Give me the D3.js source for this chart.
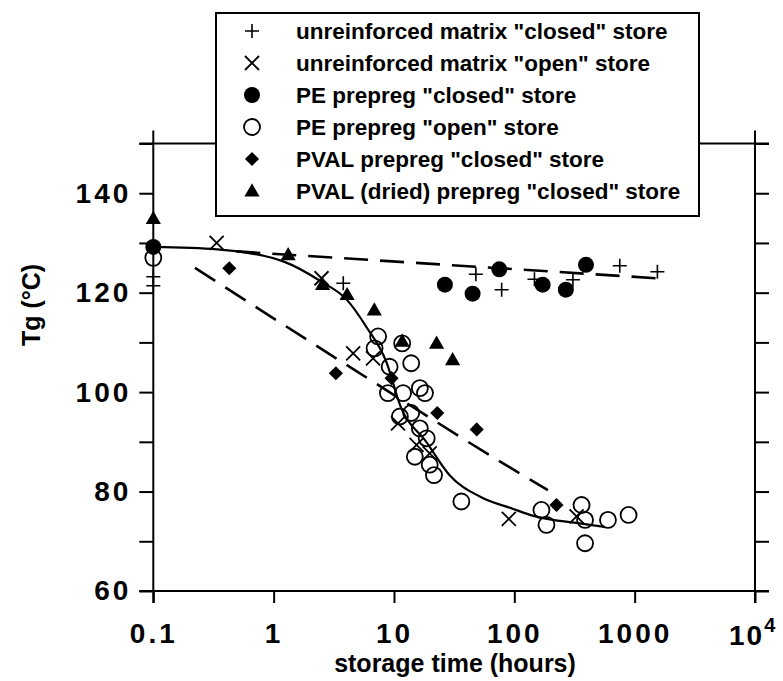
<!DOCTYPE html>
<html><head><meta charset="utf-8">
<script src="https://cdn.jsdelivr.net/npm/d3@7"></script>
<style>body{margin:0;background:#fff}svg{display:block}text{font-family:"Liberation Sans",Arial,Helvetica,sans-serif;font-weight:bold;fill:#000}</style>
</head><body><svg id="c" width="783" height="681"></svg>
<script>
// ---- data (storage time in hours, Tg in °C) ----
const seriesNames = ['unreinforced matrix "closed" store','unreinforced matrix "open" store','PE prepreg "closed" store','PE prepreg "open" store','PVAL prepreg "closed" store','PVAL (dried) prepreg "closed" store'];
const matrixClosed = [[0.1,123.2],[0.1,121.4],[3.79,121.9],[47.9,123.7],[78.5,120.6],[147,122.7],[307,122.6],[752,125.4],[1545,124.2]];
const matrixOpen = [[0.336,130],[2.5,122.9],[4.58,107.8],[6.7,106.8],[10.8,93.7],[15.4,89.4],[19.8,87.7],[90,74.5],[329,75.0]];
const peClosed = [[0.1,129.2],[26.5,121.6],[45,119.8],[75,124.7],[172,121.6],[268,120.6],[394,125.6]];
const peOpen = [[0.1,127],[7.38,111.2],[6.9,108.8],[9.2,105.1],[8.9,99.8],[11.9,99.8],[11.7,109.8],[13.9,105.8],[16.4,100.8],[18.1,99.8],[11.2,95.1],[13.9,95.8],[16.4,92.7],[18.7,90.7],[14.9,87.0],[19.8,85.4],[21.5,83.3],[36.3,78.0],[168,76.3],[185,73.3],[362,77.3],[387,74.3],[387,69.6],[600,74.3],[890,75.3]];
const pvalClosed = [[0.428,124.9],[3.29,103.8],[9.55,102.8],[22.9,95.8],[48.7,92.5],[224,77.3]];
const pvalDried = [[0.1,134.9],[1.32,127.6],[2.55,121.6],[4.08,119.6],[6.86,116.5],[11.7,110.2],[22.6,109.8],[30.7,106.5]];
const solidFit = [[0.1,129.2],[0.34,128.7],[1.2,126.3],[2.5,122.2],[4.05,118.6],[5.9,113.1],[8.7,105.9],[11.2,97.5],[18.8,89.8],[29,83.3],[51.6,79],[98,76.5],[144,75.1],[348,73.6],[560,72.9]];
const upperDash = [[0.49,128.3],[1518,122.9]];
const lowerDash = [[0.222,125],[6.3,102.5],[110,83.7],[190,80.3]];
const xTicks = [0.1,1,10,100,1000,10000];
const yTicks = [60,70,80,90,100,110,120,130,140,150];
const yLabels = [60,80,100,120,140];

const svg = d3.select('#c');
const x = d3.scaleLog().domain([0.1,10000]).range([153.3,755]);
const y = d3.scaleLinear().domain([60,150]).range([591,143.5]);
const X0 = x.range()[0], X1 = x.range()[1], Y0 = y(60), Y1 = y(150);

// frame
const frame = svg.append('g').attr('stroke','#000').attr('stroke-width',2).attr('fill','none');
frame.append('line').attr('x1',X0-14).attr('x2',X1+14).attr('y1',Y0).attr('y2',Y0);
frame.append('line').attr('x1',X0-14).attr('x2',X1+14).attr('y1',Y1).attr('y2',Y1);
frame.append('line').attr('x1',X0).attr('x2',X0).attr('y1',Y1-13).attr('y2',Y0+12);
frame.append('line').attr('x1',X1).attr('x2',X1).attr('y1',Y1-13).attr('y2',Y0+12);

// axes
const yl = svg.append('g').attr('transform',`translate(${X0},0)`)
  .call(d3.axisLeft(y).tickValues(yTicks).tickSize(14).tickPadding(8).tickFormat(d=>yLabels.includes(d)?d:''));
const yr = svg.append('g').attr('transform',`translate(${X1},0)`)
  .call(d3.axisRight(y).tickValues(yTicks).tickSize(14).tickFormat(''));
const xb = svg.append('g').attr('transform',`translate(0,${Y0})`)
  .call(d3.axisBottom(x).tickValues(xTicks).tickSize(12).tickPadding(20).tickFormat(d=>d===10000?'':d3.format('~g')(d)));
[yl,yr,xb].forEach(g=>{g.select('.domain').remove();g.selectAll('line').attr('stroke','#000').attr('stroke-width',2);
  g.selectAll('text').attr('font-size',28).attr('font-weight','bold').attr('letter-spacing','3px').attr('fill','#000').attr('font-family','"Liberation Sans",Arial,sans-serif');});
xb.selectAll('text').attr('dy','0.71em');
// 10^4 label
const t4 = svg.append('text').attr('x',x(10000)-26).attr('y',Y0+54).attr('text-anchor','start').attr('font-size',28).attr('letter-spacing','2px');
t4.append('tspan').text('10');
t4.append('tspan').attr('dy',-13).attr('font-size',20).text('4');

// axis titles
svg.append('text').attr('x',455).attr('y',672).attr('text-anchor','middle').attr('font-size',25).text('storage time (hours)');
svg.append('text').attr('transform','translate(40,305) rotate(-90)').attr('text-anchor','middle').attr('font-size',25).text('Tg (°C)');

// lines
const line = d3.line().x(d=>x(d[0])).y(d=>y(d[1]));
svg.append('path').datum(solidFit).attr('d',line.curve(d3.curveMonotoneX)).attr('fill','none').attr('stroke','#000').attr('stroke-width',2.2);
const lineL = d3.line().x(d=>x(d[0])).y(d=>y(d[1])).curve(d3.curveLinear);
svg.append('path').datum(upperDash).attr('d',lineL).attr('fill','none').attr('stroke','#000').attr('stroke-width',2.6).attr('stroke-dasharray','24,12');
svg.append('path').datum(lowerDash).attr('d',lineL.curve(d3.curveMonotoneX)).attr('fill','none').attr('stroke','#000').attr('stroke-width',2.6).attr('stroke-dasharray','24,12');

// marker drawers
function drawMarker(g, type, cx, cy){
  if(type==='plus'){ g.append('path').attr('d',`M${cx-7},${cy}H${cx+7}M${cx},${cy-7}V${cy+7}`).attr('stroke','#000').attr('stroke-width',1.6).attr('fill','none'); }
  else if(type==='cross'){ g.append('path').attr('d',`M${cx-7},${cy-7}L${cx+7},${cy+7}M${cx-7},${cy+7}L${cx+7},${cy-7}`).attr('stroke','#000').attr('stroke-width',1.8).attr('fill','none'); }
  else if(type==='dot'){ g.append('circle').attr('cx',cx).attr('cy',cy).attr('r',8).attr('fill','#000'); }
  else if(type==='ring'){ g.append('circle').attr('cx',cx).attr('cy',cy).attr('r',8).attr('fill','none').attr('stroke','#000').attr('stroke-width',1.8); }
  else if(type==='diamond'){ g.append('path').attr('d',d3.symbol(d3.symbolSquare,100)()).attr('transform',`translate(${cx},${cy}) rotate(45)`).attr('fill','#000'); }
  else if(type==='tri'){ g.append('path').attr('d',d3.symbol(d3.symbolTriangle,100)()).attr('transform',`translate(${cx},${cy+1})`).attr('fill','#000'); }
}
const series = [[matrixClosed,'plus'],[matrixOpen,'cross'],[peClosed,'dot'],[peOpen,'ring'],[pvalClosed,'diamond'],[pvalDried,'tri']];
const pts = svg.append('g');
series.forEach(([data,type])=>data.forEach(d=>drawMarker(pts,type,x(d[0]),y(d[1]))));

// legend
const lg = svg.append('g');
lg.append('rect').attr('x',216).attr('y',13).attr('width',483).attr('height',203).attr('fill','#fff').attr('stroke','#000').attr('stroke-width',2);
seriesNames.forEach((n,i)=>{
  const cy = 31 + i*32;
  drawMarker(lg, series[i][1], 252, cy);
  lg.append('text').attr('x',296).attr('y',cy).attr('dy','0.36em').attr('font-size',22.5).text(n);
});
</script></body></html>
